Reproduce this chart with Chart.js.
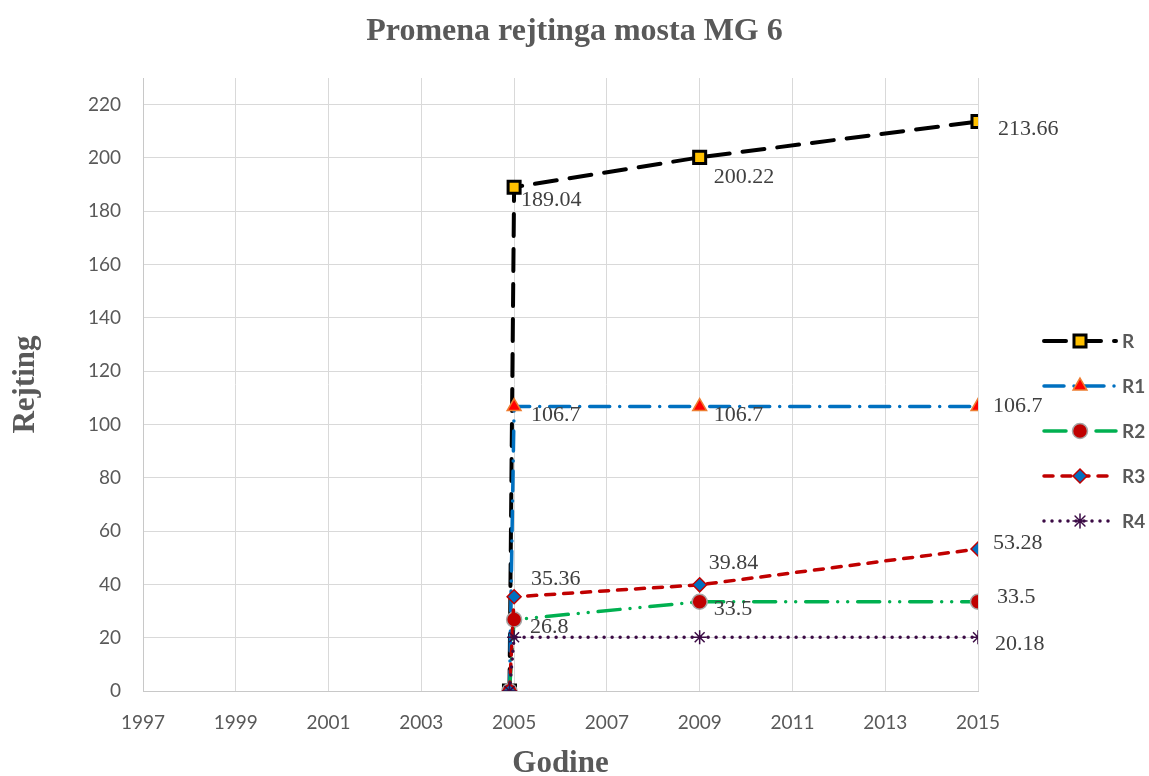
<!DOCTYPE html>
<html>
<head>
<meta charset="utf-8">
<title>Promena rejtinga mosta MG 6</title>
<script src="https://cdn.jsdelivr.net/npm/chart.js@4/dist/chart.umd.min.js"></script>
<style>
  html, body { margin: 0; padding: 0; background: #fff; }
  #c { display: block; }
</style>
</head>
<body>
<canvas id="c" width="1149" height="776"></canvas>
<script>
// data
const years = [2004.9, 2005, 2009, 2015];
const seriesNames = ['R', 'R1', 'R2', 'R3', 'R4'];
const rValues  = [0, 189.04, 200.22, 213.66];
const r1Values = [0, 106.7, 106.7, 106.7];
const r2Values = [0, 26.8, 33.5, 33.5];
const r3Values = [0, 35.36, 39.84, 53.28];
const r4Values = [0, 20.18, 20.18, 20.18];
const xTicks = [1997, 1999, 2001, 2003, 2005, 2007, 2009, 2011, 2013, 2015];
const yTicks = [0, 20, 40, 60, 80, 100, 120, 140, 160, 180, 200, 220];

const seriesValues = [rValues, r1Values, r2Values, r3Values, r4Values];

// look of each series
const styles = [
  { color: '#000000', width: 4,   dash: [22, 13],            point: 'rect',     radius: 8.5, fill: '#FFC000', border: '#000000', pbw: 3 },
  { color: '#0070C0', width: 3.5, dash: [20, 10, 0, 10],     point: 'triangle', radius: 8,   fill: '#FF0000', border: '#ED7D31', pbw: 1.5 },
  { color: '#00B050', width: 3.5, dash: [22, 10, 0, 10, 0, 10], point: 'circle', radius: 7.5, fill: '#C00000', border: '#A6A6A6', pbw: 1.5 },
  { color: '#C00000', width: 3.5, dash: [9, 9],              point: 'rectRot',  radius: 7,   fill: '#0070C0', border: '#C00000', pbw: 1.5 },
  { color: '#3B0B45', width: 3.5, dash: [0, 8],              point: 'star',     radius: 7,   fill: '#3B0B45', border: '#3B0B45', pbw: 1.5 }
];

// where the value labels sit, relative to their point (null = no label)
const labelOffsets = [
  [null, [7, 13], [14, 20], [20, 8]],
  [null, [17, 9], [14, 9], [15, 0]],
  [null, [16, 8], [14, 8], [19, -4]],
  [null, [17, -18], [9, -22], [15, -6]],
  [null, null, null, [17, 7]]
];

const datasets = seriesNames.map((name, i) => ({
  label: name,
  data: years.map((x, j) => ({ x: x, y: seriesValues[i][j] })),
  borderColor: styles[i].color,
  backgroundColor: styles[i].fill,
  borderWidth: styles[i].width,
  borderDash: styles[i].dash,
  borderCapStyle: 'round',
  tension: 0,
  pointStyle: styles[i].point,
  pointRadius: styles[i].radius,
  pointBackgroundColor: styles[i].fill,
  pointBorderColor: styles[i].border,
  pointBorderWidth: styles[i].pbw,
  order: seriesNames.length - i
}));

const valueLabels = {
  id: 'valueLabels',
  afterDatasetsDraw(chart) {
    const ctx = chart.ctx;
    ctx.save();
    ctx.font = '22px "Liberation Serif", "Times New Roman", serif';
    ctx.fillStyle = '#404040';
    ctx.textAlign = 'left';
    ctx.textBaseline = 'middle';
    chart.data.datasets.forEach((ds, i) => {
      const meta = chart.getDatasetMeta(i);
      meta.data.forEach((el, j) => {
        const off = labelOffsets[i][j];
        if (!off) return;
        ctx.fillText(String(ds.data[j].y), el.x + off[0], el.y + off[1]);
      });
    });
    ctx.restore();
  }
};

const seriesLegend = {
  id: 'seriesLegend',
  afterDraw(chart) {
    const ctx = chart.ctx;
    const x0 = chart.chartArea.right + 66;
    const x1 = x0 + 72;
    const xm = (x0 + x1) / 2;
    const y0 = 341;
    chart.data.datasets.forEach((ds, i) => {
      const y = y0 + i * 45;
      ctx.save();
      ctx.strokeStyle = ds.borderColor;
      ctx.lineWidth = ds.borderWidth;
      ctx.lineCap = 'round';
      ctx.setLineDash(ds.borderDash);
      ctx.beginPath();
      ctx.moveTo(x0, y);
      ctx.lineTo(x1, y);
      ctx.stroke();
      ctx.setLineDash([]);
      ctx.fillStyle = ds.pointBackgroundColor;
      ctx.strokeStyle = ds.pointBorderColor;
      ctx.lineWidth = ds.pointBorderWidth;
      if (Chart.helpers && Chart.helpers.drawPoint) {
        Chart.helpers.drawPoint(ctx, { pointStyle: ds.pointStyle, radius: ds.pointRadius, borderWidth: ds.pointBorderWidth, rotation: 0 }, xm, y);
      } else {
        ctx.beginPath();
        ctx.arc(xm, y, ds.pointRadius, 0, Math.PI * 2);
        ctx.fill();
        ctx.stroke();
      }
      ctx.fillStyle = '#595959';
      ctx.font = 'bold 19px Lato, "Open Sans", sans-serif';
      ctx.textAlign = 'left';
      ctx.textBaseline = 'middle';
      ctx.fillText(ds.label, x1 + 6, y + 1);
      ctx.restore();
    });
  }
};

const tickFont = { family: 'Lato, "Open Sans", sans-serif', size: 19 };
const axisTitleFont = { family: '"Liberation Serif", "Times New Roman", serif', size: 31, weight: 'bold', lineHeight: 1.1 };

new Chart(document.getElementById('c'), {
  type: 'line',
  data: { datasets: datasets },
  options: {
    responsive: false,
    animation: false,
    devicePixelRatio: 1,
    layout: { padding: 0 },
    plugins: {
      legend: { display: false },
      tooltip: { enabled: false },
      title: {
        display: true,
        text: 'Promena rejtinga mosta MG 6',
        color: '#595959',
        font: { family: '"Liberation Serif", "Times New Roman", serif', size: 32, weight: 'bold', lineHeight: 1.2 },
        padding: { top: 13, bottom: 26.6 }
      }
    },
    scales: {
      x: {
        type: 'linear',
        min: 1997,
        max: 2015,
        afterBuildTicks: s => { s.ticks = xTicks.map(v => ({ value: v })); },
        ticks: { color: '#595959', font: tickFont, padding: 20, maxRotation: 0, autoSkip: false, callback: v => String(v) },
        grid: { color: '#d9d9d9', lineWidth: 1, drawTicks: false },
        border: { color: '#c8c8c8', width: 1 },
        title: { display: true, text: 'Godine', color: '#595959', font: axisTitleFont, padding: { top: 6, bottom: -5 } },
        afterFit: s => { s.height = 85; }
      },
      y: {
        type: 'linear',
        min: 0,
        max: 230,
        afterBuildTicks: s => { s.ticks = yTicks.map(v => ({ value: v })); },
        ticks: { color: '#595959', font: tickFont, padding: 22 },
        grid: { color: '#d9d9d9', lineWidth: 1, drawTicks: false },
        border: { color: '#c8c8c8', width: 1 },
        title: { display: true, text: 'Rejting', color: '#595959', font: axisTitleFont, padding: { top: 9, bottom: 0 } },
        afterFit: s => { s.width = 143; }
      },
      spacer: {
        type: 'linear',
        axis: 'y',
        position: 'right',
        display: true,
        grid: { display: false, drawTicks: false },
        ticks: { display: false },
        border: { display: false },
        afterFit: s => { s.width = 171; }
      }
    }
  },
  plugins: [valueLabels, seriesLegend]
});
</script>
</body>
</html>
